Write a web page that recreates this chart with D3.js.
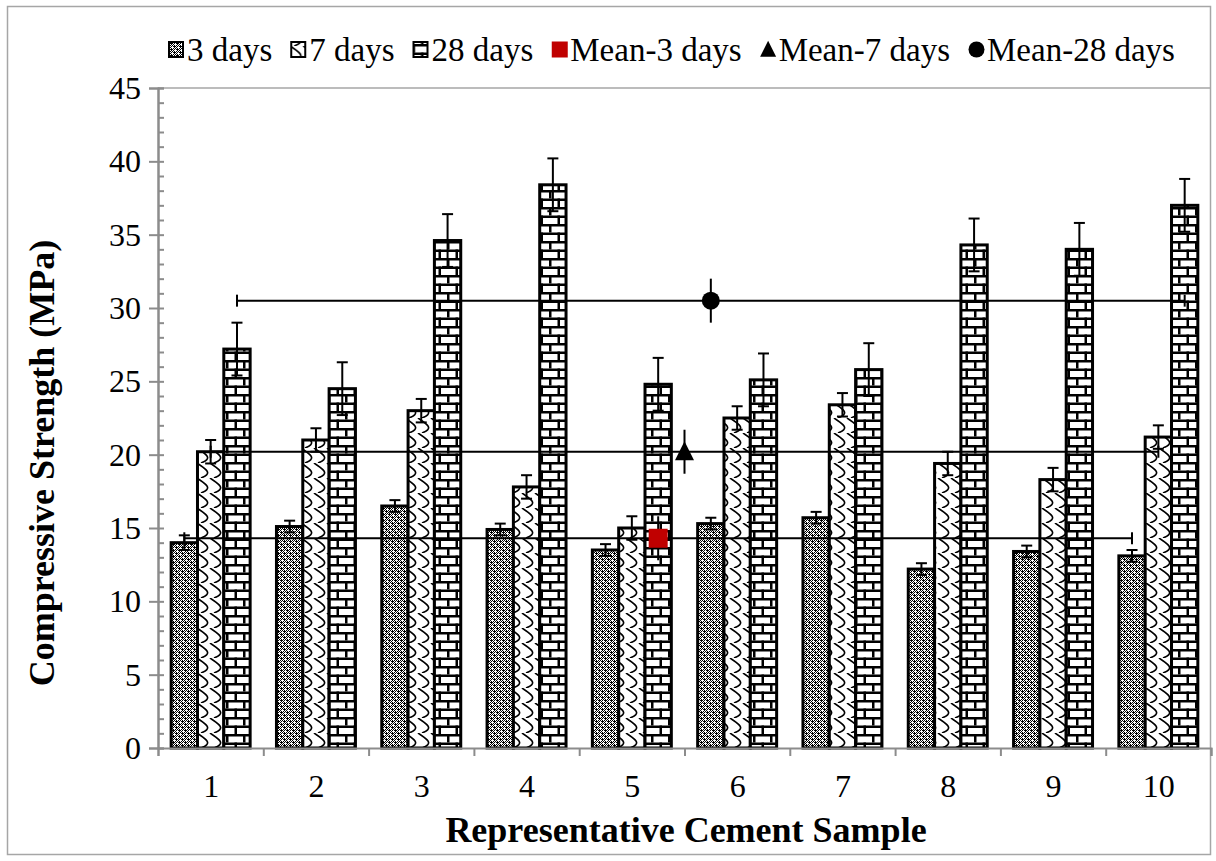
<!DOCTYPE html>
<html>
<head>
<meta charset="utf-8">
<script src="https://cdn.jsdelivr.net/npm/d3@7"></script>
<style>
  body { margin: 0; background: #fff; }
  svg text { font-family: 'Liberation Serif', 'Times New Roman', serif; fill: #000; }
</style>
</head>
<body>
<div id="chart"></div>
<script>
// Values
const samples = ['1', '2', '3', '4', '5', '6', '7', '8', '9', '10'];
const days3 = [14.0, 15.1, 16.5, 14.9, 13.5, 15.3, 15.7, 12.2, 13.4, 13.1];
const days7 = [20.2, 21.0, 23.0, 17.8, 15.0, 22.5, 23.4, 19.4, 18.3, 21.2];
const days28 = [27.2, 24.5, 34.6, 38.4, 24.8, 25.1, 25.8, 34.3, 34.0, 37.0];
const err3 = [0.5, 0.4, 0.4, 0.4, 0.4, 0.4, 0.4, 0.4, 0.4, 0.4];
const err7 = [0.8, 0.8, 0.8, 0.8, 0.8, 0.8, 0.8, 0.8, 0.8, 0.8];
const err28 = [1.8, 1.8, 1.8, 1.8, 1.8, 1.8, 1.8, 1.8, 1.8, 1.8];

const seriesNames = ['3 days', '7 days', '28 days'];
const meanNames = ['Mean-3 days', 'Mean-7 days', 'Mean-28 days'];
const meanValues = [14.3, 20.2, 30.5];
const meanPositions = [5.25, 5.5, 5.75];   // in sample units
const meanYErr = [1.5, 1.5, 1.5];
const meanXErr = [4.5, 4.5, 4.5];
const yTicks = [0, 5, 10, 15, 20, 25, 30, 35, 40, 45];

class StrengthChart {

    constructor(_config) {
        this.config = {
            parentElement: _config.parentElement,
            containerWidth: 1216,
            containerHeight: 861,
            margin: {top: 88, right: 5, bottom: 113, left: 158},
            fontSize: 32,
            titleSize: 36
        };
        this.initVis();
    }

    initVis() {
        let vis = this;
        vis.width = vis.config.containerWidth - vis.config.margin.left - vis.config.margin.right;
        vis.height = vis.config.containerHeight - vis.config.margin.top - vis.config.margin.bottom;

        vis.svg = d3.select(vis.config.parentElement).append('svg')
            .attr('width', vis.config.containerWidth)
            .attr('height', vis.config.containerHeight);

        vis.defs = vis.svg.append('defs');
        vis.makePatterns();

        // outer chart border
        vis.svg.append('rect')
            .attr('x', 7.5).attr('y', 6.5)
            .attr('width', 1203).attr('height', 848)
            .attr('fill', 'none').attr('stroke', '#a6a6a6').attr('stroke-width', 1.5);

        vis.chart = vis.svg.append('g')
            .attr('transform', `translate(${vis.config.margin.left},${vis.config.margin.top})`);

        vis.x = d3.scaleLinear().domain([0.5, 10.5]).range([0, vis.width]);
        vis.y = d3.scaleLinear().domain([0, 45]).range([vis.height, 0]);

        vis.series = [
            {name: seriesNames[0], values: days3, errs: err3, fill: 'url(#pat3)'},
            {name: seriesNames[1], values: days7, errs: err7, fill: 'url(#pat7)'},
            {name: seriesNames[2], values: days28, errs: err28, fill: 'url(#pat28)'}
        ];

        vis.renderVis();
    }

    makePatterns() {
        let vis = this;

        // 3 days: dark fine checker with white specks
        const p3 = vis.defs.append('pattern').attr('id', 'pat3')
            .attr('patternUnits', 'userSpaceOnUse').attr('width', 6).attr('height', 6);
        p3.append('rect').attr('width', 6).attr('height', 6).attr('fill', '#fff');
        for (let i = 0; i < 6; i++) {
            for (let j = 0; j < 6; j++) {
                const white = ((i + j) % 2 === 1) && !(i === 3 && j === 0) && !(i === 0 && j === 3);
                if (!white) p3.append('rect').attr('x', i).attr('y', j).attr('width', 1).attr('height', 1).attr('fill', '#000');
            }
        }
        p3.append('rect').attr('x', 1).attr('y', 1).attr('width', 1).attr('height', 1).attr('fill', '#fff');
        p3.append('rect').attr('x', 4).attr('y', 4).attr('width', 1).attr('height', 1).attr('fill', '#fff');

        // 7 days: shingle-like curls
        const p7 = vis.defs.append('pattern').attr('id', 'pat7')
            .attr('patternUnits', 'userSpaceOnUse').attr('width', 13).attr('height', 15);
        p7.append('rect').attr('width', 13).attr('height', 15).attr('fill', '#fff');
        p7.append('path')
            .attr('d', 'M0,0 C4,3 8,5 10,8 C12,11 9,13 4,15 M13,0 C17,3 21,5 23,8 M-3,8 C-1,11 -4,13 -9,15')
            .attr('fill', 'none').attr('stroke', '#000').attr('stroke-width', 1.6);

        // 28 days: horizontal brick
        const p28 = vis.defs.append('pattern').attr('id', 'pat28')
            .attr('patternUnits', 'userSpaceOnUse').attr('width', 17).attr('height', 17);
        p28.append('rect').attr('width', 17).attr('height', 17).attr('fill', '#fff');
        p28.append('rect').attr('x', 0).attr('y', 0).attr('width', 17).attr('height', 2.5).attr('fill', '#000');
        p28.append('rect').attr('x', 0).attr('y', 8.5).attr('width', 17).attr('height', 2.5).attr('fill', '#000');
        p28.append('rect').attr('x', 0).attr('y', 0).attr('width', 2.5).attr('height', 8.5).attr('fill', '#000');
        p28.append('rect').attr('x', 8.5).attr('y', 8.5).attr('width', 2.5).attr('height', 8.5).attr('fill', '#000');
    }

    renderVis() {
        let vis = this;
        const fs = vis.config.fontSize;
        const slot = 0.25;

        // plot area top border
        vis.chart.append('line')
            .attr('x1', 0).attr('x2', vis.width)
            .attr('y1', 0).attr('y2', 0)
            .attr('stroke', '#a6a6a6').attr('stroke-width', 1.5);

        // bars
        vis.series.forEach((s, k) => {
            vis.chart.append('g').selectAll('rect')
                .data(s.values)
                .join('rect')
                .attr('x', (d, i) => vis.x(i + 1 - 0.375 + k * slot))
                .attr('y', d => vis.y(d))
                .attr('width', vis.x(slot) - vis.x(0))
                .attr('height', d => vis.height - vis.y(d))
                .attr('fill', s.fill)
                .attr('stroke', '#000')
                .attr('stroke-width', 3);
        });

        // bar error bars
        vis.series.forEach((s, k) => {
            const g = vis.chart.append('g').attr('stroke', '#000').attr('stroke-width', 2);
            s.values.forEach((v, i) => {
                const cx = vis.x(i + 1 - 0.375 + (k + 0.5) * slot);
                const lo = vis.y(v - s.errs[i]), hi = vis.y(v + s.errs[i]);
                g.append('line').attr('x1', cx).attr('x2', cx).attr('y1', lo).attr('y2', hi);
                g.append('line').attr('x1', cx - 5.5).attr('x2', cx + 5.5).attr('y1', hi).attr('y2', hi);
                g.append('line').attr('x1', cx - 5.5).attr('x2', cx + 5.5).attr('y1', lo).attr('y2', lo);
            });
        });

        // mean points with x and y error bars
        const eg = vis.chart.append('g').attr('stroke', '#000').attr('stroke-width', 2);
        meanValues.forEach((v, i) => {
            const cx = vis.x(meanPositions[i]), cy = vis.y(v);
            const xl = vis.x(meanPositions[i] - meanXErr[i]), xr = vis.x(meanPositions[i] + meanXErr[i]);
            const yt = vis.y(v + meanYErr[i]), yb = vis.y(v - meanYErr[i]);
            eg.append('line').attr('x1', xl).attr('x2', xr).attr('y1', cy).attr('y2', cy);
            eg.append('line').attr('x1', xl).attr('x2', xl).attr('y1', cy - 6).attr('y2', cy + 6);
            eg.append('line').attr('x1', xr).attr('x2', xr).attr('y1', cy - 6).attr('y2', cy + 6);
            eg.append('line').attr('x1', cx).attr('x2', cx).attr('y1', yt).attr('y2', yb);
        });

        const markers = vis.chart.append('g');
        const drawMarker = (g, i, cx, cy, size) => {
            if (i === 0) {
                g.append('rect').attr('x', cx - size / 2).attr('y', cy - size / 2)
                    .attr('width', size).attr('height', size).attr('fill', '#c00000');
            } else if (i === 1) {
                const h = size;
                g.append('path')
                    .attr('d', `M${cx},${cy - h * 0.55} L${cx + size / 2},${cy + h * 0.45} L${cx - size / 2},${cy + h * 0.45} Z`)
                    .attr('fill', '#000');
            } else {
                g.append('circle').attr('cx', cx).attr('cy', cy).attr('r', size / 2).attr('fill', '#000');
            }
        };
        meanValues.forEach((v, i) => drawMarker(markers, i, vis.x(meanPositions[i]), vis.y(v), i === 2 ? 18 : 19));

        // y axis
        const axisColor = '#8c8c8c';
        const yAxis = vis.chart.append('g')
            .call(d3.axisLeft(vis.y).tickValues(yTicks).tickSize(9).tickPadding(8));
        yAxis.selectAll('text').attr('font-size', fs).attr('dy', '0.33em');
        vis.chart.append('g')
            .call(d3.axisRight(vis.y).tickValues(d3.range(0, 46)).tickSize(6).tickFormat(''));
        // x axis
        vis.chart.append('g')
            .attr('transform', `translate(0,${vis.height})`)
            .call(d3.axisBottom(vis.x).tickValues(d3.range(0.5, 11, 1)).tickSize(8).tickFormat(''));
        const xLab = vis.chart.append('g')
            .attr('transform', `translate(0,${vis.height})`)
            .call(d3.axisBottom(vis.x).tickValues(d3.range(1, 11)).tickSize(0).tickPadding(26)
                .tickFormat((d, i) => samples[i]));
        xLab.selectAll('text').attr('font-size', fs);
        xLab.select('.domain').remove();
        vis.chart.selectAll('.domain, .tick line')
            .attr('stroke', axisColor).attr('stroke-width', 2);

        // axis titles
        vis.svg.append('text')
            .attr('x', 686).attr('y', 842)
            .attr('text-anchor', 'middle')
            .attr('font-size', vis.config.titleSize).attr('font-weight', 'bold')
            .text('Representative Cement Sample');
        vis.svg.append('text')
            .attr('transform', 'translate(54,463) rotate(-90)')
            .attr('text-anchor', 'middle')
            .attr('font-size', vis.config.titleSize).attr('font-weight', 'bold')
            .text('Compressive Strength (MPa)');

        // legend
        const legend = vis.svg.append('g').attr('transform', 'translate(168,61)');
        const items = seriesNames.map((n, k) => ({name: n, type: 'bar', k}))
            .concat(meanNames.map((n, k) => ({name: n, type: 'mean', k})));
        let cursor = 0;
        items.forEach(it => {
            const g = legend.append('g').attr('transform', `translate(${cursor},0)`);
            if (it.type === 'bar') {
                g.append('rect').attr('x', 1).attr('y', -19).attr('width', 14).attr('height', 15)
                    .attr('fill', vis.series[it.k].fill).attr('stroke', '#000').attr('stroke-width', 2);
            } else {
                drawMarker(g, it.k, 8.5, -11.5, 16);
            }
            const t = g.append('text').attr('x', 19).attr('font-size', fs + 1).text(it.name);
            cursor += 19 + t.node().getComputedTextLength() + 18;
        });
    }
}

new StrengthChart({parentElement: '#chart'});
</script>
</body>
</html>
